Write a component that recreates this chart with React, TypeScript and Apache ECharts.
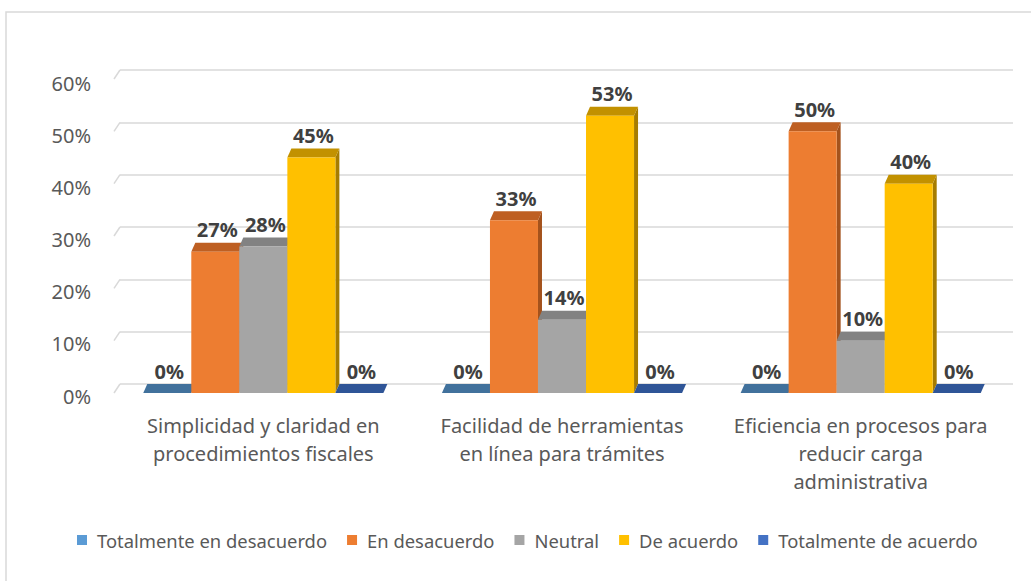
import React, { useEffect, useRef } from "react";
import * as echarts from "echarts";

const categories = [
  "Simplicidad y claridad en\nprocedimientos fiscales",
  "Facilidad de herramientas\nen línea para trámites",
  "Eficiencia en procesos para\nreducir carga\nadministrativa",
];
const seriesNames = [
  "Totalmente en desacuerdo",
  "En desacuerdo",
  "Neutral",
  "De acuerdo",
  "Totalmente de acuerdo",
];
const totalmenteDesacuerdo = [0, 0, 0];
const enDesacuerdo = [27, 33, 50];
const neutral = [28, 14, 10];
const deAcuerdo = [45, 53, 40];
const totalmenteAcuerdo = [0, 0, 0];
const seriesValues = [totalmenteDesacuerdo, enDesacuerdo, neutral, deAcuerdo, totalmenteAcuerdo];
const tickValues = [0, 10, 20, 30, 40, 50, 60];

const frontColors = ["#5B9BD5", "#ED7D31", "#A5A5A5", "#FFC000", "#4472C4"];
const topColors = ["#41719C", "#BE5F22", "#828282", "#C29100", "#2F5597"];
const sideColors = ["#3A6590", "#A4521C", "#707070", "#A67C00", "#294B87"];

const FONT = "'Noto Sans', sans-serif";
const GROUP_RATIO = 0.804;
const DX = 4;
const DY = -9;

export default function App() {
  const ref = useRef<HTMLDivElement>(null);
  useEffect(() => {
    document.body.style.margin = "0";
    const chart = echarts.init(ref.current!, null, { renderer: "svg" });

    const barSeries = seriesValues.map((vals, sIdx) => ({
      name: seriesNames[sIdx],
      type: "custom",
      xAxisIndex: 0,
      yAxisIndex: 0,
      itemStyle: { color: frontColors[sIdx] },
      encode: { x: 0, y: 1 },
      data: vals.map((v, i) => [i, v]),
      renderItem: (params: any, api: any) => {
        const cat = api.value(0);
        const v = api.value(1);
        const base = api.coord([cat, 0]);
        const top = api.coord([cat, v]);
        const band = api.size([1, 0])[0];
        const groupW = band * GROUP_RATIO;
        const bw = groupW / 5;
        const x = base[0] - groupW / 2 + sIdx * bw;
        const y0 = base[1];
        const y1 = top[1];
        const zb = sIdx * 4;
        return {
          type: "group",
          children: [
            {
              type: "polygon",
              z2: zb,
              shape: {
                points: [
                  [x + bw, y1],
                  [x + bw + DX, y1 + DY],
                  [x + bw + DX, y0 + DY],
                  [x + bw, y0],
                ],
              },
              style: { fill: sideColors[sIdx] },
            },
            {
              type: "polygon",
              z2: zb + 1,
              shape: {
                points: [
                  [x, y1],
                  [x + bw, y1],
                  [x + bw + DX, y1 + DY],
                  [x + DX, y1 + DY],
                ],
              },
              style: { fill: topColors[sIdx] },
            },
            {
              type: "rect",
              z2: zb + 2,
              shape: { x: x, y: y1, width: bw, height: Math.max(0, y0 - y1) },
              style: { fill: frontColors[sIdx] },
            },
            {
              type: "text",
              z2: 100,
              x: x + bw / 2 + DX / 2,
              y: y1 + DY - 3,
              style: {
                text: v + "%",
                fill: "#404040",
                font: "bold 20px " + FONT,
                align: "center",
                verticalAlign: "bottom",
              },
            },
          ],
        };
      },
    }));

    const wallEdges = {
      type: "custom",
      xAxisIndex: 0,
      yAxisIndex: 0,
      silent: true,
      data: tickValues.map((t) => [0, t]),
      encode: { x: 0, y: 1 },
      renderItem: (params: any, api: any) => {
        const p = api.coord([0, api.value(1)]);
        const band = api.size([1, 0])[0];
        const lx = p[0] - band / 2;
        return {
          type: "line",
          shape: { x1: lx, y1: p[1], x2: lx + 6, y2: p[1] - 9 },
          style: { stroke: "#D9D9D9", lineWidth: 1.5 },
        };
      },
    };

    chart.setOption({
      animation: false,
      backgroundColor: "#ffffff",
      textStyle: { fontFamily: FONT },
      legend: {
        data: seriesNames,
        left: 72,
        top: 526,
        icon: "rect",
        itemWidth: 10,
        itemHeight: 10,
        itemGap: 20,
        textStyle: {
          color: "#595959",
          fontSize: 18.4,
          fontFamily: FONT,
          padding: [0, 0, 0, 5],
        },
      },
      grid: [
        { left: 114, right: 21, top: 79, bottom: 188 },
        { left: 120, right: 18, top: 70, bottom: 197 },
        { left: 114, right: 21, top: 83, bottom: 185 },
      ],
      xAxis: [
        {
          type: "category",
          gridIndex: 0,
          data: categories,
          axisLine: { show: false },
          axisTick: { show: false },
          axisLabel: {
            interval: 0,
            color: "#595959",
            fontSize: 20,
            lineHeight: 28,
            margin: 18,
            fontFamily: FONT,
          },
        },
        {
          type: "category",
          gridIndex: 1,
          data: categories,
          show: false,
        },
        {
          type: "category",
          gridIndex: 2,
          data: categories,
          show: false,
        },
      ],
      yAxis: [
        {
          type: "value",
          gridIndex: 0,
          min: 0,
          max: 60,
          interval: 10,
          show: false,
        },
        {
          type: "value",
          gridIndex: 1,
          min: 0,
          max: 60,
          interval: 10,
          axisLine: { show: false },
          axisTick: { show: false },
          axisLabel: { show: false },
          splitLine: { lineStyle: { color: "#D9D9D9", width: 1.5 } },
        },
        {
          type: "value",
          gridIndex: 2,
          min: 0,
          max: 60,
          interval: 10,
          splitLine: { show: false },
          axisLine: { show: false },
          axisTick: { show: false },
          axisLabel: {
            formatter: "{value}%",
            color: "#595959",
            fontSize: 20,
            margin: 23,
            fontFamily: FONT,
          },
        },
      ],
      graphic: [
        {
          type: "polyline",
          shape: { points: [[6, 581], [6, 12], [1031, 12]] },
          style: { stroke: "#D9D9D9", lineWidth: 1.5, fill: "none" },
          silent: true,
        },
      ],
      series: [wallEdges, ...barSeries],
    });
    return () => chart.dispose();
  }, []);
  return <div ref={ref} style={{ width: 1031, height: 581 }} />;
}
